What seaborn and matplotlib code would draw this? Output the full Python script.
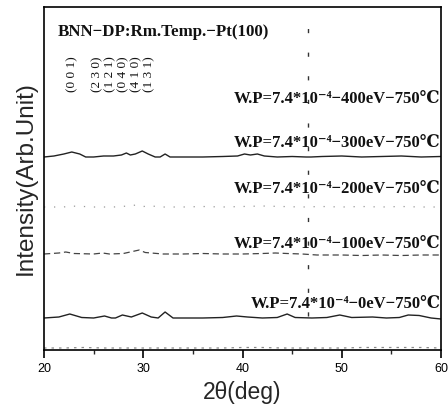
import numpy as np
import pandas as pd
import matplotlib
matplotlib.use("Agg")
import matplotlib.pyplot as plt
import seaborn as sns

sns.set_theme(style="white")
plt.rcParams['font.family'] = ['Liberation Sans', 'DejaVu Sans']

# ---- data (2theta in deg, intensity in arbitrary units) ----
xA = [20, 21, 22, 22.8, 23.6, 24.2, 25, 26, 27, 27.8, 28.3, 28.7, 29.2, 29.9, 30.5, 31.2, 31.7, 32.2, 32.7, 34, 36, 38, 39.5, 40.2, 40.8, 41.5, 42.2, 43.5, 45, 46.4, 46.9, 48, 50, 52, 54, 56, 58, 60]
yA = [0, 1, 3, 5, 3, 0, 0, 1, 1, 2, 4, 2, 3, 6, 3, 0, 0, 3, 0, 0, 0, 0.5, 1, 3, 2, 3, 1, 0, 0.5, 0, 0, 0.5, 1, 0, 0.5, 1, 0, 0.5]

xB = [20, 22, 22.5, 24, 25, 27, 28.5, 29.3, 30, 30.8, 32, 34, 36, 38, 40, 42, 44, 46, 48, 50, 52, 54, 56, 58, 60]
yB = [0, 0, 1, 0.5, 0, 0, 1, 2, 0.5, 1, 0, 0, 0.5, 0, 0.5, 1, 0.5, 0, 0.5, 0, 0.5, 0, 0.5, 0, 0]

xC = [20, 21.5, 22.2, 23, 25, 25.9, 26.6, 28, 29.6, 30.2, 30.8, 32, 34, 36, 38, 40, 42, 43.3, 44.5, 46, 47.5, 50, 52, 54, 56, 58, 60]
yC = [0, 1, 2, 0.5, 0, 1, 0, 0.5, 4, 1.5, 1, 0, 0, 0.5, 0, 0, 0.5, 1, 0.5, 0, -1, -1, -1.5, -1, -1.5, -1, -1]

xD = [20, 21.5, 22.6, 23.8, 25, 26.1, 26.8, 27.2, 27.9, 28.8, 29.9, 30.8, 31.5, 32.2, 33, 34.5, 36, 38, 39.4, 40.5, 42, 43.5, 44.5, 45.3, 47, 48.5, 49.8, 51, 53.1, 54.5, 55.8, 56.7, 57.8, 59, 60]
yD = [0, 1, 4, 0.5, 0, 2, 0, 0, 3, 1, 5, 1, 0, 6, 0, 0, 0, 0.5, 2, 1, 0, 0.5, 4, 0.5, 0, 0.5, 3, 0.5, 1, 0, 0.5, 3, 2.5, 0, -1]

xE = [20, 22, 24, 26, 28, 30, 32, 34, 36, 38, 40, 42, 44, 46, 48, 50, 52, 54, 56, 58, 60]
yE = [0, 0, 0.5, 0, 0, 0, 0, 0, 0, 0, 0.5, 0.5, 0, 0, 0, 0, 0.5, 0.5, 0.5, 0.5, 0]

offsets = {"A": 193, "B": 143, "C": 96, "D": 32, "E": 2}

labels = ["W.P=7.4*10⁻⁴−400eV−750℃", "W.P=7.4*10⁻⁴−300eV−750℃",
          "W.P=7.4*10⁻⁴−200eV−750℃", "W.P=7.4*10⁻⁴−100eV−750℃",
          "W.P=7.4*10⁻⁴−0eV−750℃"]
label_y = [251, 207, 161, 106, 46]

hkl_text = ["(0 0 1)", "(2 3 0)", "(1 2 1)", "(0 4 0)", "(4 1 0)", "(1 3 1)"]
hkl_pos = [22.8, 25.4, 26.7, 28.0, 29.3, 30.6]

pt_line = 46.6
title_text = "BNN−DP:Rm.Temp.−Pt(100)"

# ---- figure ----
fig = plt.figure(figsize=(4.48, 4.08), dpi=100)
ax = fig.add_axes([44/448, 1-350/408, (441-44)/448, (350-7)/408])

serif = ['Liberation Serif', 'DejaVu Serif']

def draw(x, y, off, **kw):
    df = pd.DataFrame({"x": x, "y": np.array(y, dtype=float) + off})
    sns.lineplot(data=df, x="x", y="y", ax=ax, sort=False, estimator=None, **kw)

draw(xA, yA, offsets["A"], color="#222222", linewidth=1.0)
draw(xB, yB, offsets["B"], color="#9a9a9a", linewidth=0.9, linestyle=(0, (1, 7)))
draw(xC, yC, offsets["C"], color="#444444", linewidth=0.9, linestyle=(0, (5, 3)))
draw(xD, yD, offsets["D"], color="#222222", linewidth=1.0)
draw(xE, yE, offsets["E"], color="#8a8a8a", linewidth=0.9, linestyle=(0, (2, 4)))

ax.axvline(pt_line, ymin=0.1, ymax=0.98, color="#333333", linewidth=1.0,
           linestyle=(0, (3, 14)))

ax.set_xlim(20, 60)
ax.set_ylim(0, 343)
ax.set_xticks([20, 30, 40, 50, 60])
ax.set_xticks([25, 35, 45, 55], minor=True)
ax.set_yticks([])
ax.tick_params(axis="x", which="major", direction="out", length=6, width=1.2,
               labelsize=9, bottom=True, pad=3, colors="black")
ax.tick_params(axis="x", which="minor", direction="out", length=3, width=1.0,
               bottom=True)
for s in ax.spines.values():
    s.set_color("black")
    s.set_linewidth(1.2)

ax.set_xlabel("2θ(deg)", fontsize=16.5, labelpad=5)
ax.set_ylabel("Intensity(Arb.Unit)", fontsize=17.5, labelpad=5)

ax.text(21.4, 318, title_text, fontsize=12.2, fontweight="bold", family=serif,
        va="center", ha="left", color="#111111")

for t, y in zip(labels, label_y):
    ax.text(59.95, y, t, fontsize=12, fontweight="bold", family=serif,
            va="center", ha="right", color="#111111")

for t, xp in zip(hkl_text, hkl_pos):
    ax.text(xp, 276, t, fontsize=9.5, rotation=90, family=serif,
            va="center", ha="center", color="#111111")

fig.savefig("out.png", dpi=100)
